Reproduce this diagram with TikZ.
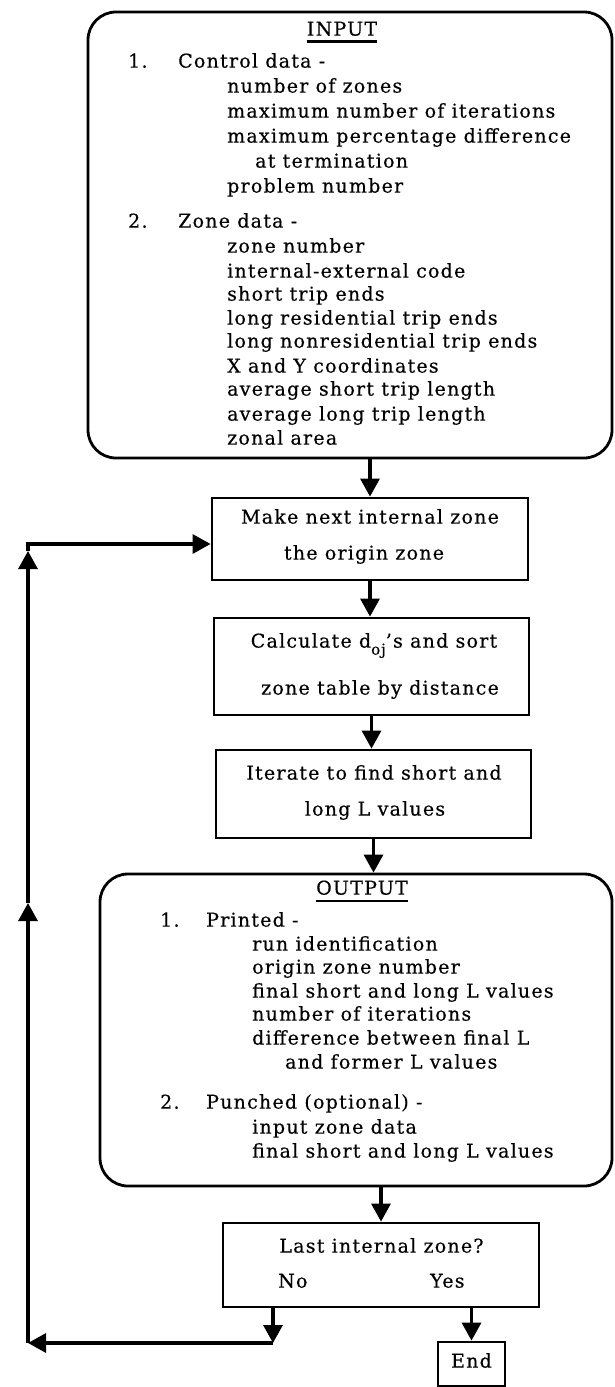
\documentclass[tikz,border=0pt]{standalone}
\usepackage{fontspec}
\setmainfont{DejaVu Serif}[LetterSpace=6.5,FakeBold=0.4]
\usetikzlibrary{arrows.meta}
\begin{document}
\begin{tikzpicture}[x=1pt,y=-1pt,
  every node/.style={font=\fontsize{19}{22}\selectfont, inner sep=0pt},
  boxline/.style={draw, line width=2.8pt},
  roundbox/.style={boxline, rounded corners=28pt},
  procbox/.style={boxline},
  conn/.style={line width=3.2pt},
  arr/.style={conn, -{Triangle[length=18pt,width=19pt]}},
  txt/.style={anchor=mid west},
  ctxt/.style={anchor=mid},
  uline/.style={line width=2.2pt}]
\useasboundingbox (0,0) rectangle (615,1387);

% ---------- boxes ----------
\node[roundbox, minimum width=524pt, minimum height=446pt] (input) at (350,235) {};
\node[procbox, minimum width=316pt, minimum height=82pt] (box1) at (370,539) {};
\node[procbox, minimum width=315pt, minimum height=97pt] (box2) at (371.5,666.5) {};
\node[procbox, minimum width=315pt, minimum height=88pt] (box3) at (373.5,794) {};
\node[roundbox, minimum width=512pt, minimum height=312pt] (output) at (356,1030) {};
\node[procbox, minimum width=316pt, minimum height=84pt] (decision) at (381,1265) {};
\node[procbox, minimum width=67pt, minimum height=44pt] (endbox) at (471.5,1364) {};

% ---------- input text ----------
\node[ctxt] (intitle) at (342,33) {INPUT};
\draw[uline] ([yshift=-6pt]intitle.base west) -- ([yshift=-6pt]intitle.base east);
\node[txt] (in1n) at (128,65) {1.};
\node[txt] (in1) at (178,65) {Control data -};
\node[txt] (in1a) at (227,90) {number of zones};
\node[txt] (in1b) at (227,115) {maximum number of iterations};
\node[txt] (in1c) at (227,140) {maximum percentage difference};
\node[txt] (in1d) at (255,165) {at termination};
\node[txt] (in1e) at (227,190) {problem number};
\node[txt] (in2n) at (128,225) {2.};
\node[txt] (in2) at (178,225) {Zone data -};
\node[txt] (in2a) at (227,250) {zone number};
\node[txt] (in2b) at (227,275) {internal-external code};
\node[txt] (in2c) at (227,298) {short trip ends};
\node[txt] (in2d) at (227,322) {long residential trip ends};
\node[txt] (in2e) at (227,345) {long nonresidential trip ends};
\node[txt] (in2f) at (227,370) {X and Y coordinates};
\node[txt] (in2g) at (227,393) {average short trip length};
\node[txt] (in2h) at (227,418) {average long trip length};
\node[txt] (in2i) at (227,442) {zonal area};

% ---------- process boxes text ----------
\node[ctxt] (b1a) at (370,521) {Make next internal zone};
\node[ctxt] (b1b) at (364,557) {the origin zone};
\node[ctxt] (b2a) at (374,645) {Calculate d\raisebox{-7pt}{\fontsize{15}{15}\selectfont oj}'s and sort};
\node[ctxt] (b2b) at (380,692) {zone table by distance};
\node[ctxt] (b3a) at (374,777) {Iterate to find short and};
\node[ctxt] (b3b) at (375,813) {long L values};

% ---------- output text ----------
\node[ctxt] (outtitle) at (362,892) {OUTPUT};
\draw[uline] ([yshift=-6pt]outtitle.base west) -- ([yshift=-6pt]outtitle.base east);
\node[txt] (o1n) at (160,924) {1.};
\node[txt] (o1) at (206,924) {Printed -};
\node[txt] (o1a) at (252,948) {run identification};
\node[txt] (o1b) at (252,971) {origin zone number};
\node[txt] (o1c) at (252,995) {final short and long L values};
\node[txt] (o1d) at (252,1018) {number of iterations};
\node[txt] (o1e) at (252,1042) {difference between final L};
\node[txt] (o1f) at (285,1066) {and former L values};
\node[txt] (o2n) at (160,1106) {2.};
\node[txt] (o2) at (206,1106) {Punched (optional) -};
\node[txt] (o2a) at (252,1131) {input zone data};
\node[txt] (o2b) at (252,1155) {final short and long L values};

% ---------- decision text ----------
\node[ctxt] (dq) at (381.5,1250) {Last internal zone?};
\node[txt] (dno) at (278,1285) {No};
\node[txt] (dyes) at (430,1285) {Yes};
\node[ctxt] (endtxt) at (471.5,1365) {End};

% ---------- connectors ----------
\draw[arr] (input.south -| box1.north) -- (box1.north);
\draw[arr] (box1.south) -- (box2.north -| box1.south);
\draw[arr] (box2.south) -- (box3.north -| box2.south);
\draw[arr] (box3.south) -- (output.north -| box3.south);
\draw[arr] (output.south -| decision.north) -- (decision.north);
\draw[arr] (decision.south -| endbox.north) -- (endbox.north);

\coordinate (nob) at (273,1343);
\coordinate (lb) at (28,1343);
\coordinate (a1) at (28,903);
\coordinate (a2) at (28,551);
\coordinate (lt) at (28,544);
\draw[arr] (decision.south -| nob) -- (nob);
\draw[arr] (nob) -- (lb);
\draw[arr] (lb) -- (a1);
\draw[arr] (a1) -- (a2);
\draw[arr] (a2) -- (lt) -- (box1.west |- lt);
\end{tikzpicture}
\end{document}
